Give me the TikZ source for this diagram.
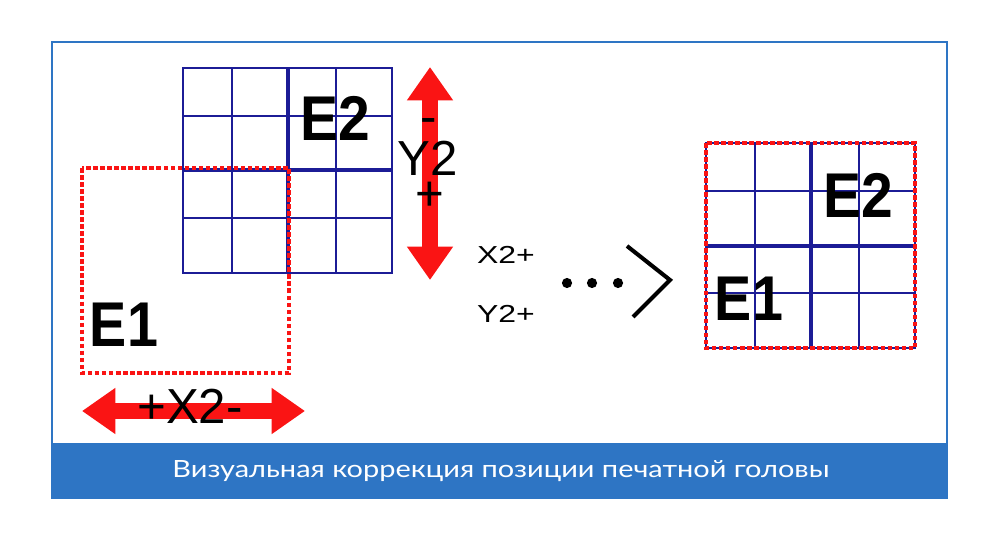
\documentclass[tikz,border=0pt]{standalone}
\usepackage{fontspec}
\setmainfont{Liberation Sans}
\newfontfamily\capfont{Lato}
\usetikzlibrary{positioning,arrows.meta}
\definecolor{frameblue}{RGB}{46,117,196}
\definecolor{gridblue}{RGB}{28,28,150}
\definecolor{markred}{RGB}{250,20,20}

\begin{document}
\begin{tikzpicture}[
    x=0.02cm, y=-0.02cm,
    gridthin/.style={draw=gridblue, line width=1.4pt},
    gridthick/.style={draw=gridblue, line width=2.2pt},
    dotbox/.style={draw=markred, line width=2.4pt, dash pattern=on 2.6pt off 1.4pt},
    bigarrow/.style={draw=markred, line width=9.6pt,
        {Triangle[length=19pt,width=25pt]}-{Triangle[length=19pt,width=25pt]}},
    biglbl/.style={font=\fontsize{36}{40}\selectfont\bfseries, anchor=base, inner sep=0pt},
    axlbl/.style={font=\fontsize{28}{32}\selectfont, anchor=base, inner sep=0pt},
    lbl/.style={font=\fontsize{14}{16}\selectfont, anchor=base, inner sep=0pt}
  ]
  \useasboundingbox (0,0) rectangle (1000,544);
  \fill[white] (0,0) rectangle (1000,544);

  % frame and caption band
  \draw[frameblue, line width=1.2pt] (52,42) rectangle (947,498);
  \fill[frameblue] (52,443) rectangle (947,498);
  \node[font=\capfont\fontsize{13.5}{16}\selectfont, text=white, anchor=base, inner sep=0pt]
    (caption) at (501,477) {\scalebox{1.22}[1]{Визуальная коррекция позиции печатной головы}};

  % left: shifted head E2
  \draw[gridthin] (183,68) rectangle (392,273);
  \foreach \gx in {232,336} \draw[gridthin] (\gx,68) -- (\gx,273);
  \foreach \gy in {116,218} \draw[gridthin] (183,\gy) -- (392,\gy);
  \draw[gridthick] (288,68) -- (288,273);
  \draw[gridthick] (183,170) -- (392,170);
  \draw[dotbox] (82,168) rectangle (289,373);
  \node[biglbl] (e2left) at (335,140) {\scalebox{0.9}[1]{E2}};
  \node[biglbl] (e1left) at (124,346) {\scalebox{0.88}[1]{E1}};

  % correction arrows
  \coordinate (ytop) at (430,67);
  \coordinate (ybot) at (430,280);
  \coordinate (xleft) at (82,411);
  \coordinate (xright) at (305,411);
  \draw[bigarrow] (ytop) -- (ybot);
  \draw[bigarrow] (xleft) -- (xright);
  \node[axlbl] (yminus) at (429,133) {-};
  \node[axlbl] (ylbl) at (428,175) {Y2};
  \node[axlbl] (yplus) at (430,210) {+};
  \node[axlbl] (xlbl) at (190,423) {+X2-};

  % adjustment steps
  \node[lbl] (xstep) at (506,263) {\scalebox{1.3}[1]{X2+}};
  \node[lbl] (ystep) at (506,322) {\scalebox{1.3}[1]{Y2+}};
  \foreach \dx in {567,592,618} \fill (\dx,283) circle[radius=2.9pt];
  \draw[line width=2.3pt] (627,246) -- (670,280) -- (633,317);

  % right: aligned result
  \draw[gridthin] (706,143) rectangle (915,348);
  \foreach \gx in {755,859} \draw[gridthin] (\gx,143) -- (\gx,348);
  \foreach \gy in {191,293} \draw[gridthin] (706,\gy) -- (915,\gy);
  \draw[gridthick] (811,143) -- (811,348);
  \draw[gridthick] (706,246) -- (915,246);
  \draw[dotbox] (706,143) rectangle (915,348);
  \node[biglbl] (e2right) at (858,217) {\scalebox{0.9}[1]{E2}};
  \node[biglbl] (e1right) at (749,320) {\scalebox{0.88}[1]{E1}};
\end{tikzpicture}
\end{document}
